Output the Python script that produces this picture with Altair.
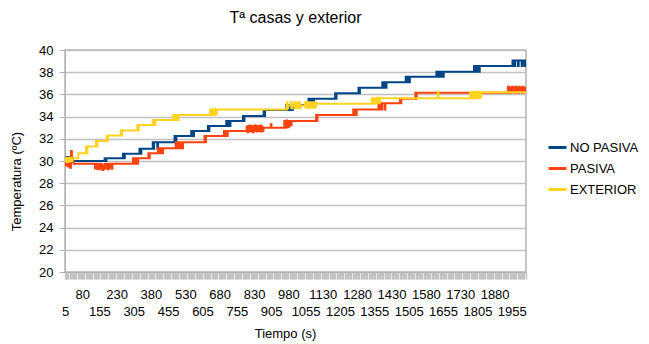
import altair as alt
import pandas as pd

TITLE = "Tª casas y exterior"
SERIES = ["NO PASIVA", "PASIVA", "EXTERIOR"]
COLORS = ["#004586", "#ff420e", "#ffd320"]
Y_TICKS = [20, 22, 24, 26, 28, 30, 32, 34, 36, 38, 40]
X_LABELS = [5, 80, 155, 230, 305, 380, 455, 530, 605, 680, 755, 830, 905, 980,
            1055, 1130, 1205, 1280, 1355, 1430, 1505, 1580, 1655, 1730, 1805,
            1880, 1955]
X_TICKS = list(range(5, 2016, 5))

# (tiempo s, temperatura ºC), step series
NO_PASIVA = [
    (5, 30.0), (10, 30.35), (15, 30.0), (20, 30.35), (25, 30.0), (30, 30.0),
    (178, 30.25), (182, 30.0), (186, 30.25),
    (258, 30.65), (262, 30.25), (266, 30.65),
    (330, 31.1), (334, 30.65), (338, 31.1),
    (388, 31.7), (391, 31.1), (394, 31.7), (408, 31.1), (411, 31.7),
    (483, 32.25), (487, 31.7), (491, 32.25),
    (556, 32.7), (559, 32.25), (562, 32.7), (565, 32.25), (568, 32.7),
    (629, 33.15), (632, 32.7), (635, 33.15),
    (709, 33.6), (712, 33.15), (715, 33.6), (718, 33.15), (721, 33.6), (724, 33.15), (727, 33.6),
    (782, 34.05), (785, 33.6), (788, 34.05),
    (872, 34.6), (875, 34.05), (878, 34.6),
    (971, 35.05), (975, 34.6), (979, 35.05), (984, 34.6), (989, 35.05), (994, 34.6), (999, 35.05),
    (1068, 35.6), (1072, 35.05), (1076, 35.6), (1080, 35.05), (1084, 35.6), (1088, 35.05), (1092, 35.6),
    (1184, 36.1), (1187, 35.6), (1190, 36.1),
    (1286, 36.6), (1289, 36.1), (1292, 36.6),
    (1390, 37.1), (1393, 36.6), (1396, 37.1), (1399, 36.6), (1402, 37.1), (1405, 36.6), (1408, 37.1),
    (1492, 37.6), (1495, 37.1), (1498, 37.6), (1501, 37.1), (1504, 37.6), (1507, 37.1), (1510, 37.6),
    (1626, 38.05), (1629, 37.6), (1632, 38.05), (1635, 37.6), (1638, 38.05), (1641, 37.6),
    (1644, 38.05), (1647, 37.6), (1650, 38.05), (1655, 37.6), (1658, 38.05),
    (1790, 38.55), (1793, 38.05), (1796, 38.55), (1799, 38.05), (1802, 38.55), (1805, 38.05),
    (1808, 38.55), (1812, 38.05), (1815, 38.55),
    (1958, 39.05), (1961, 38.55), (1964, 39.05), (1967, 38.55), (1970, 39.05), (1982, 38.55),
    (1985, 39.05), (1998, 38.55), (2001, 39.05), (2010, 38.55), (2013, 39.05), (2017, 39.05),
]

PASIVA = [
    (5, 29.6), (8, 30.1), (11, 29.6), (15, 30.2), (19, 29.5), (23, 29.9), (27, 29.4),
    (31, 30.9), (35, 30.3), (39, 29.9), (43, 29.75),
    (136, 29.35), (140, 29.75), (144, 29.3), (148, 29.7), (152, 29.25), (156, 29.75),
    (160, 29.35), (164, 29.7), (168, 29.2), (172, 29.6), (176, 29.3), (180, 29.75),
    (184, 29.35), (188, 29.7), (192, 29.25), (196, 29.75), (200, 29.4), (204, 29.7),
    (208, 29.3), (212, 29.75),
    (302, 30.25), (306, 29.75), (310, 30.25), (314, 29.75), (318, 30.25), (322, 29.75), (324, 30.25),
    (369, 30.7), (372, 30.25), (375, 30.7),
    (411, 31.15), (415, 30.7), (419, 31.15), (423, 30.7), (427, 31.15), (431, 30.7), (433, 31.15),
    (488, 31.7), (492, 31.15), (496, 31.7), (500, 31.15), (504, 31.7), (508, 31.15),
    (512, 31.7), (516, 31.15), (520, 31.7),
    (614, 32.25), (617, 31.7), (620, 32.25),
    (699, 32.7), (703, 32.25), (707, 32.7), (711, 32.25), (715, 32.7),
    (798, 33.1), (801, 32.6), (804, 33.15), (807, 32.7), (810, 33.2), (813, 32.65),
    (816, 33.1), (819, 32.7), (822, 33.15), (825, 32.6), (828, 33.1), (831, 32.7),
    (834, 33.2), (837, 32.7), (840, 33.1), (843, 32.65), (846, 33.15), (849, 32.7),
    (852, 33.1), (855, 32.7), (858, 33.2), (861, 32.65), (864, 33.1), (867, 32.7), (871, 33.0),
    (903, 33.3), (906, 33.0),
    (962, 33.6), (966, 33.0), (970, 33.65), (974, 33.05), (978, 33.6), (982, 33.1),
    (986, 33.6), (990, 33.25), (994, 33.6),
    (1101, 34.15), (1104, 33.6), (1107, 34.15),
    (1263, 34.65), (1267, 34.15), (1271, 34.65), (1275, 34.15), (1278, 34.65),
    (1373, 35.2), (1377, 34.65), (1381, 35.2), (1385, 34.65), (1389, 35.2), (1400, 34.65), (1403, 35.2),
    (1467, 35.6), (1470, 35.2), (1473, 35.6),
    (1534, 36.15), (1537, 35.6), (1540, 36.15),
    (1938, 36.7), (1942, 36.15), (1946, 36.6), (1950, 36.15), (1954, 36.7), (1958, 36.25),
    (1962, 36.65), (1966, 36.15), (1970, 36.7), (1974, 36.2), (1978, 36.6), (1982, 36.15),
    (1986, 36.7), (1990, 36.25), (1994, 36.6), (1998, 36.15), (2002, 36.7), (2006, 36.2),
    (2010, 36.6), (2014, 36.15), (2017, 36.4),
]

EXTERIOR = [
    (5, 30.0), (9, 30.3), (13, 29.9), (18, 30.3), (23, 29.95), (28, 30.3), (33, 30.0), (38, 30.25),
    (63, 30.7),
    (97, 31.3), (100, 30.7), (103, 31.3),
    (140, 31.8), (143, 31.3), (146, 31.8),
    (187, 32.3), (190, 31.8), (193, 32.3),
    (248, 32.75), (251, 32.3), (254, 32.75),
    (321, 33.25), (324, 32.75), (327, 33.25),
    (388, 33.7), (391, 33.25), (394, 33.7), (397, 33.25), (400, 33.7),
    (477, 34.15), (480, 33.7), (483, 34.15), (486, 33.7), (489, 34.15), (492, 33.7),
    (495, 34.15), (498, 33.7), (501, 34.15),
    (638, 34.65), (641, 34.15), (644, 34.65), (647, 34.15), (650, 34.65), (653, 34.15),
    (656, 34.7), (659, 34.2), (662, 34.65), (665, 34.2), (668, 34.65),
    (973, 35.3), (976, 34.75), (979, 35.0), (990, 35.3), (993, 34.75), (996, 35.0),
    (1004, 35.3), (1007, 34.75), (1010, 35.0), (1016, 35.3), (1019, 34.75), (1022, 35.0),
    (1028, 35.3), (1031, 34.75), (1034, 35.0),
    (1053, 35.3), (1056, 34.8), (1059, 35.3), (1062, 34.8), (1065, 35.25), (1068, 34.8),
    (1071, 35.3), (1074, 34.8), (1077, 35.25), (1080, 34.8), (1083, 35.3), (1086, 34.85),
    (1089, 35.25), (1092, 34.8), (1095, 35.3), (1098, 34.85), (1101, 35.25), (1104, 35.15),
    (1344, 35.65), (1347, 35.15), (1350, 35.65), (1353, 35.15), (1356, 35.65), (1359, 35.2),
    (1362, 35.65), (1365, 35.2), (1368, 35.7), (1371, 35.2), (1374, 35.65), (1377, 35.25), (1380, 35.65),
    (1632, 36.25), (1635, 35.65),
    (1773, 36.2), (1776, 35.65), (1779, 36.2), (1782, 35.65), (1785, 36.25), (1788, 35.7),
    (1791, 36.2), (1794, 35.65), (1797, 36.2), (1800, 35.7), (1803, 36.25), (1806, 35.65),
    (1809, 36.2), (1812, 35.7), (1815, 36.2), (1818, 35.7), (1821, 36.2), (1824, 36.2),
    (2017, 36.2),
]

rows = []
for name, pts in zip(SERIES, [NO_PASIVA, PASIVA, EXTERIOR]):
    for t, v in pts:
        rows.append({"t": t, "T": v, "serie": name})
df = pd.DataFrame(rows)

FONT = "Liberation Sans"
label_list = "[" + ",".join(str(v) for v in X_LABELS) + "]"
label_expr = (
    f"indexof({label_list}, datum.value) < 0 ? '' : "
    f"(indexof({label_list}, datum.value) % 2 == 0 ? ['', datum.label] : [datum.label, ''])"
)

x_enc = alt.X(
    "t:Q",
    scale=alt.Scale(domain=[5, 2017], nice=False, zero=False),
    axis=alt.Axis(
        values=X_TICKS, labelExpr=label_expr, format="d", labelOverlap=False,
        labelFlush=False, labelBaseline="top", labelLineHeight=17, labelPadding=9,
        labelFontSize=13, labelColor="#000000", labelFont=FONT,
        tickSize=7, tickWidth=1.5, tickColor="#c4c4c4", domainColor="#b3b3b3", grid=False,
        title="Tiempo (s)", titleX=220, titleY=65, titleBaseline="alphabetic",
        titleFontSize=13, titleFontWeight="normal", titleColor="#000000", titleFont=FONT,
    ),
)
y_enc = alt.Y(
    "T:Q",
    scale=alt.Scale(domain=[20, 40], nice=False, zero=False),
    axis=alt.Axis(
        values=Y_TICKS, tickSize=6, tickColor="#b3b3b3", domainColor="#b3b3b3",
        gridColor="#c0c0c0", gridWidth=1.5, labelFontSize=13, labelPadding=6,
        labelColor="#000000", labelFont=FONT,
        title="Temperatura (ºC)", titleX=-42, titleY=131, titleFontSize=13,
        titleFontWeight="normal", titleColor="#000000", titleFont=FONT,
    ),
)
color_enc = alt.Color(
    "serie:N",
    scale=alt.Scale(domain=SERIES, range=COLORS),
    legend=alt.Legend(
        title=None, orient="none", legendX=482, legendY=87, symbolType="stroke",
        symbolStrokeWidth=3, symbolSize=324, labelFontSize=13, labelFont=FONT,
        labelColor="#000000", labelOffset=2, rowPadding=3, padding=0,
    ),
)

layers = []
for name in SERIES:
    layers.append(
        alt.Chart(df)
        .transform_filter(alt.datum.serie == name)
        .mark_line(interpolate="step-after", strokeWidth=2, clip=True)
        .encode(x=x_enc, y=y_enc, color=color_enc)
    )

title_layer = (
    alt.Chart(pd.DataFrame({"txt": [TITLE]}))
    .mark_text(align="center", baseline="alphabetic", fontSize=16, font=FONT, color="#000000")
    .encode(text="txt:N", x=alt.value(230.5), y=alt.value(-27))
)

chart = (
    alt.layer(*layers, title_layer)
    .properties(
        width=461, height=222,
        autosize=alt.AutoSizeParams(type="none"),
        padding={"left": 57, "top": 42, "right": 115, "bottom": 70},
    )
    .configure_view(stroke="#b3b3b3", strokeWidth=1.5)
)

chart.save("out.html", embed_options={"renderer": "svg", "actions": False})
